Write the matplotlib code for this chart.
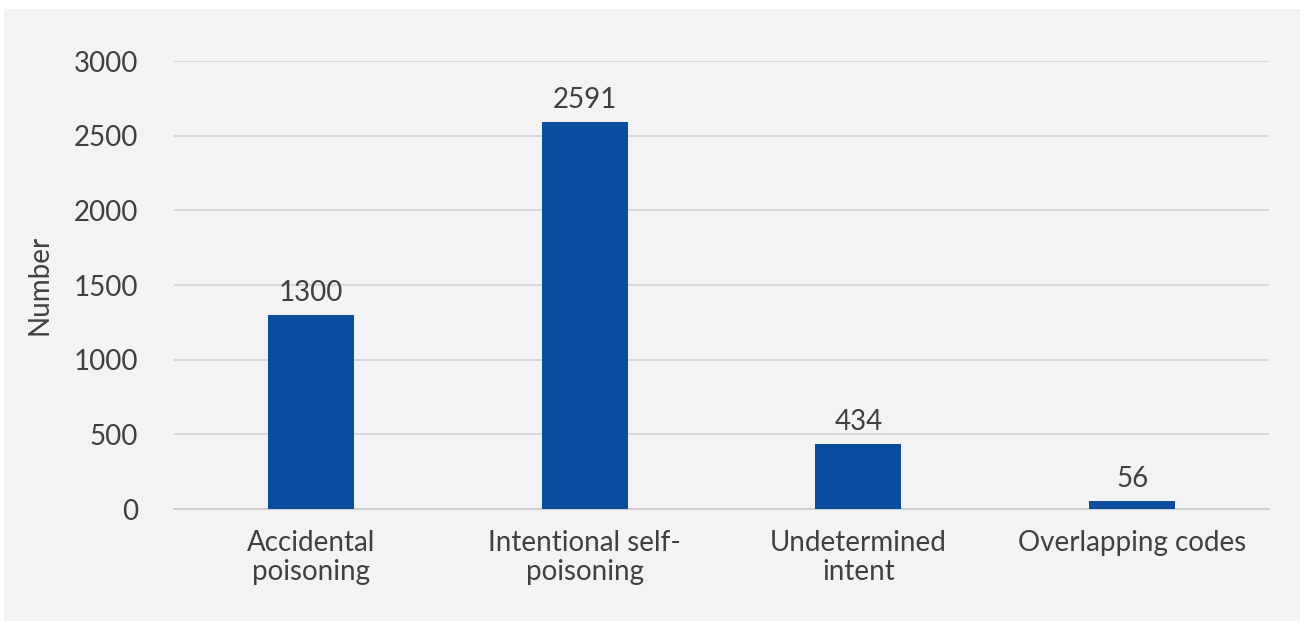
import matplotlib.pyplot as plt
from matplotlib.patches import Rectangle

# poisoning deaths by intent
categories = ["Accidental\npoisoning", "Intentional self-\npoisoning",
              "Undetermined\nintent", "Overlapping codes"]
counts = [1300, 2591, 434, 56]
yticks = [0, 500, 1000, 1500, 2000, 2500, 3000]

plt.rcParams['font.family'] = ['Lato', 'DejaVu Sans']
text_col = "#404040"
fs = 20

fig = plt.figure(figsize=(13, 6.21), dpi=100, facecolor="white")
# grey card behind the chart
card = Rectangle((4 / 1300, 0), 1 - 4 / 1300, 1 - 9 / 621,
                 transform=fig.transFigure, facecolor="#f3f3f3",
                 edgecolor="none", zorder=-5)
fig.add_artist(card)

ax = fig.add_axes([174 / 1300, 1 - 509 / 621, 1095 / 1300, 448 / 621])
ax.set_facecolor("none")

x = range(len(categories))
bars = ax.bar(x, counts, width=0.314, color="#0c4c9e", zorder=3)
for xi, v in zip(x, counts):
    ax.text(xi, v + 60, str(v), ha="center", va="bottom",
            fontsize=fs, color=text_col)

ax.set_xlim(-0.5, 3.5)
ax.set_ylim(0, 3000)
ax.set_yticks(yticks)
ax.set_yticklabels([str(t) for t in yticks])
ax.yaxis.grid(True, color="#d4d4d4", linewidth=1.3, zorder=0)
ax.set_axisbelow(True)
for s in ["top", "right", "left"]:
    ax.spines[s].set_visible(False)
ax.spines["bottom"].set_color("#cccccc")
ax.spines["bottom"].set_linewidth(1.3)
ax.tick_params(axis="both", length=0, labelsize=fs, colors=text_col)
ax.tick_params(axis="y", pad=26)
ax.tick_params(axis="x", pad=15)
ax.set_xticks(list(x))
ax.set_xticklabels(categories, linespacing=1.15)
ax.set_ylabel("Number", fontsize=fs, color=text_col, labelpad=15)

fig.savefig("out.png", dpi=100, facecolor="white")
